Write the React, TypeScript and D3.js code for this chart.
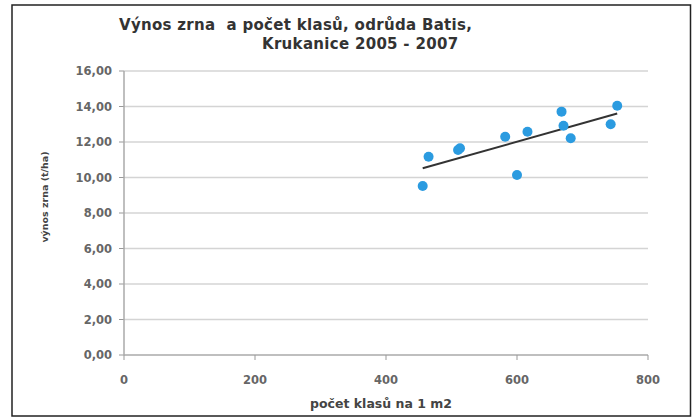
import React from "react";
import * as d3 from "d3";

const klasy = [456, 465, 510, 513, 582, 616, 600, 668, 671, 682, 743, 753];
const vynos = [9.52, 11.17, 11.55, 11.65, 12.3, 12.58, 10.14, 13.71, 12.92, 12.21, 13.0, 14.04];
const xTicks = [0, 200, 400, 600, 800];
const yTicks = [0, 2, 4, 6, 8, 10, 12, 14, 16];
const titleLines = ["Výnos zrna  a počet klasů, odrůda Batis,", "Krukanice 2005 - 2007"];
const xTitle = "počet klasů na 1 m2";
const yTitle = "výnos zrna (t/ha)";

export default function App() {
  const W = 697, H = 419;
  const x = d3.scaleLinear().domain([0, 800]).range([124, 648]);
  const y = d3.scaleLinear().domain([0, 16]).range([355, 71]);
  const mx = d3.mean(klasy)!, my = d3.mean(vynos)!;
  let sxy = 0, sxx = 0;
  klasy.forEach((v, i) => { sxy += (v - mx) * (vynos[i] - my); sxx += (v - mx) ** 2; });
  const b = sxy / sxx, a = my - b * mx;
  const x0 = d3.min(klasy)!, x1 = d3.max(klasy)!;
  const fmt = (v: number) => v.toFixed(2).replace(".", ",");
  const font = "'DejaVu Sans', Verdana, sans-serif";
  return (
    <svg width={W} height={H} style={{ position: "absolute", left: 0, top: 0, background: "#fff" }} fontFamily={font}>
      <rect x={12} y={5} width={678.5} height={411} fill="#fff" stroke="#222" strokeWidth={1.5} />
      <text x={119} y={30} fontSize={15} letterSpacing={0.3} fontWeight="bold" fill="#333" style={{ whiteSpace: "pre" }}>{titleLines[0]}</text>
      <text x={262} y={49} fontSize={15} letterSpacing={0.3} fontWeight="bold" fill="#333">{titleLines[1]}</text>
      {yTicks.map(t => (
        <g key={t}>
          {t > 0 && <line x1={x(0)} x2={x(800)} y1={y(t)} y2={y(t)} stroke="#d4d4d4" strokeWidth={1.5} />}
          <line x1={x(0) - 5} x2={x(0)} y1={y(t)} y2={y(t)} stroke="#999" />
          <text x={112} y={y(t) + 4} fontSize={11.5} fontWeight="bold" textAnchor="end" fill="#666">{fmt(t)}</text>
        </g>
      ))}
      <line x1={x(0)} x2={x(0)} y1={y(16)} y2={y(0)} stroke="#aaa" strokeWidth={1.5} />
      <line x1={x(0)} x2={x(800)} y1={y(0)} y2={y(0)} stroke="#aaa" strokeWidth={1.5} />
      {xTicks.map(t => (
        <g key={t}>
          <line x1={x(t)} x2={x(t)} y1={y(0)} y2={y(0) + 5} stroke="#999" />
          <text x={x(t)} y={y(0) + 29} fontSize={11.5} fontWeight="bold" textAnchor="middle" fill="#666">{t}</text>
        </g>
      ))}
      <text x={381} y={408} fontSize={12.5} fontWeight="bold" textAnchor="middle" fill="#444">{xTitle}</text>
      <text transform={`translate(48,197) rotate(-90)`} fontSize={9.5} fontWeight="bold" textAnchor="middle" fill="#444">{yTitle}</text>
      <line x1={x(x0)} x2={x(x1)} y1={y(a + b * x0)} y2={y(a + b * x1)} stroke="#333" strokeWidth={2} />
      {klasy.map((v, i) => (
        <circle key={i} cx={x(v)} cy={y(vynos[i])} r={5} fill="#2b9be0" />
      ))}
    </svg>
  );
}
